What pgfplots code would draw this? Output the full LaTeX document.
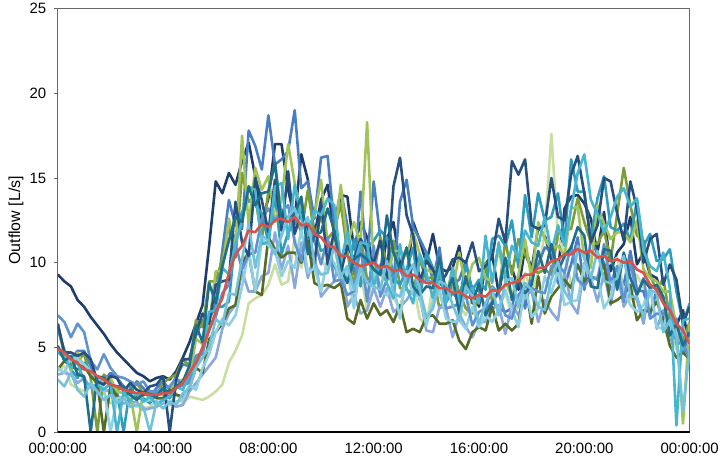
\documentclass[border=0pt]{standalone}
\usepackage{pgfplots}
\pgfplotsset{compat=1.18}
\usepackage{pgfplotstable}
\usepackage{fontspec}
\setmainfont{Liberation Sans}

\definecolor{c1}{HTML}{1F3D6B}
\definecolor{c2}{HTML}{4A7EC4}
\definecolor{c3}{HTML}{2E9CBB}
\definecolor{c4}{HTML}{8ED1E2}
\definecolor{c5}{HTML}{7D9D3A}
\definecolor{c6}{HTML}{A2C35A}
\definecolor{c7}{HTML}{C9DEA2}
\definecolor{c8}{HTML}{556B26}
\definecolor{c9}{HTML}{5E92D0}
\definecolor{c10}{HTML}{1F6E8C}
\definecolor{c11}{HTML}{8AA8DC}
\definecolor{c12}{HTML}{46B6D0}
\definecolor{c13}{HTML}{27507F}
\definecolor{c14}{HTML}{74C2D9}
\definecolor{meanred}{HTML}{D6534B}

% Daily outflow profiles (15-min steps, t in hours), one column per day; m = mean profile
\pgfplotstableread{
t s1 s2 s3 s4 s5 s6 s7 s8 s9 s10 s11 s12 s13 s14 m
0.00 9.3 6.1 4.8 3.8 6.4 4.8 3.6 3.7 6.9 5.1 3.4 4.7 6.4 3.1 4.9
0.25 8.9 4.8 4.9 3.5 4.5 4.9 3.9 4.2 6.5 4.2 3.5 4.4 4.7 2.7 4.7
0.50 8.6 4.3 3.7 4.4 4.0 3.6 2.8 3.9 5.6 4.5 3.4 3.8 4.7 3.5 4.3
0.75 7.8 4.8 3.2 4.3 4.2 4.7 2.6 3.7 6.4 3.4 2.9 4.1 4.5 2.5 4.1
1.00 7.4 4.8 4.1 4.0 4.6 3.8 2.4 3.9 5.9 3.3 3.2 3.0 4.7 2.1 3.7
1.25 6.8 3.9 3.6 3.6 3.2 3.6 2.9 3.3 4.2 0.0 2.6 2.7 4.3 2.9 3.6
1.50 6.3 3.0 3.1 3.2 0.0 2.7 2.4 2.9 3.7 3.3 2.6 2.8 3.0 2.4 3.3
1.75 5.8 3.0 3.3 2.6 3.4 3.1 2.3 0.0 4.6 3.2 2.4 2.5 2.8 1.9 3.1
2.00 5.2 3.5 2.6 0.0 3.0 3.2 1.7 2.7 3.8 2.8 2.5 2.9 3.3 2.2 2.8
2.25 4.7 3.2 2.4 2.0 2.5 2.4 1.8 2.1 3.3 2.7 1.8 0.0 3.2 1.7 2.7
2.50 4.3 2.7 0.0 2.1 2.6 2.3 2.1 2.0 3.2 2.7 1.7 2.4 2.4 2.0 2.5
2.75 3.9 2.3 2.7 2.1 2.4 2.3 1.8 2.5 3.0 2.2 1.7 1.8 2.9 1.5 2.4
3.00 3.5 3.0 2.0 2.3 2.9 0.0 1.5 2.0 2.8 1.9 1.8 2.3 2.5 1.6 2.3
3.25 3.3 2.6 2.0 1.8 2.3 2.4 1.4 2.2 3.0 2.3 1.3 1.8 2.3 1.5 2.3
3.50 3.0 2.1 1.7 1.9 2.4 2.0 1.5 2.3 2.4 2.2 1.4 2.1 2.7 0.0 2.2
3.75 3.2 2.6 2.3 1.8 2.2 2.2 1.8 2.0 2.4 2.1 1.5 1.6 2.8 1.8 2.2
4.00 3.3 3.0 2.5 1.8 2.9 2.2 1.4 2.0 2.6 2.6 1.7 1.9 3.3 1.4 2.3
4.25 3.1 2.5 2.0 1.8 3.2 2.4 1.6 2.5 2.7 2.3 1.7 2.1 0.0 1.8 2.3
4.50 3.6 3.3 2.6 1.8 3.4 3.0 2.3 2.2 3.2 2.7 1.5 2.7 3.1 1.6 2.6
4.75 4.4 4.0 2.8 1.9 4.3 3.1 1.7 2.1 2.7 3.0 1.6 2.5 4.3 2.3 2.9
5.00 5.3 3.9 2.9 2.8 3.9 3.2 2.1 2.6 3.0 3.9 2.4 3.4 4.3 2.6 3.5
5.25 6.4 5.7 4.5 2.5 6.6 5.5 2.0 3.8 4.5 6.3 2.9 3.8 5.9 3.8 4.1
5.50 7.5 6.6 4.6 3.8 6.2 5.2 1.9 3.5 4.7 5.3 3.4 5.0 7.0 4.4 5.0
5.75 11.0 6.7 6.7 4.6 8.9 6.4 2.1 5.5 6.1 8.8 3.9 7.1 6.4 5.0 6.0
6.00 14.8 7.6 7.4 5.9 8.9 9.5 2.4 5.9 6.8 7.6 4.4 7.2 8.7 6.7 7.1
6.25 14.1 10.7 7.4 6.7 10.2 9.5 2.8 6.4 8.2 9.8 6.1 9.7 8.9 6.3 7.9
6.50 15.3 13.7 7.7 6.3 12.2 12.6 4.1 7.3 8.7 11.3 7.0 9.3 9.0 8.2 9.4
6.75 14.6 12.2 11.6 6.9 10.3 10.8 4.8 7.5 11.1 12.7 7.5 11.1 13.6 8.1 10.5
7.00 16.0 12.0 13.0 8.6 15.3 17.5 5.7 10.0 9.6 12.4 9.5 12.5 11.2 10.2 11.0
7.25 17.1 17.8 13.7 10.7 13.6 12.2 7.6 10.6 10.5 14.5 8.3 14.5 10.4 12.3 11.9
7.50 15.1 16.9 13.4 8.3 13.9 15.6 7.9 8.3 10.6 13.4 8.3 14.3 15.0 9.7 11.8
7.75 12.4 15.5 12.9 11.4 11.4 14.3 8.1 8.1 12.6 14.1 9.2 11.1 13.7 11.6 12.3
8.00 13.8 18.7 11.2 11.0 14.2 15.1 8.7 11.5 13.2 14.2 9.4 11.2 11.8 11.3 12.1
8.25 17.0 15.8 14.0 10.7 15.9 12.4 9.9 10.8 12.5 15.9 11.8 14.5 14.9 10.5 12.5
8.50 17.0 16.1 10.5 9.2 12.7 13.8 8.7 10.3 13.0 12.3 9.6 14.7 11.9 11.6 12.6
8.75 14.3 16.6 11.8 10.1 12.7 17.0 8.9 10.6 13.4 12.7 11.0 11.4 15.4 12.7 12.4
9.00 12.6 19.0 12.3 9.7 12.8 14.7 11.5 10.6 11.2 12.9 8.5 14.6 11.7 13.2 12.7
9.25 16.4 14.4 13.8 12.0 11.8 12.7 9.7 10.0 10.1 13.9 11.2 12.6 13.0 12.0 12.2
9.50 14.9 14.8 11.0 9.4 14.3 12.1 11.4 11.3 12.2 10.5 9.1 11.6 12.0 12.7 12.3
9.75 11.6 12.6 11.9 9.7 11.6 12.8 11.7 8.8 11.3 11.6 10.5 13.1 9.9 9.9 11.7
10.00 13.7 16.2 10.7 8.3 12.7 14.9 10.2 8.6 9.9 11.8 8.0 12.8 13.6 9.3 11.5
10.25 14.6 16.3 10.9 10.3 11.4 11.1 9.6 8.7 11.5 13.2 8.5 13.8 9.9 9.4 11.0
10.50 11.6 12.2 9.8 10.0 11.9 11.3 11.3 8.5 8.9 11.9 8.9 13.4 11.9 11.0 10.9
10.75 14.0 14.3 9.0 9.0 13.5 14.6 8.8 8.8 9.0 9.7 10.4 10.0 9.4 9.2 10.4
11.00 13.9 12.2 9.1 9.6 10.6 11.1 7.6 6.7 8.1 8.8 7.4 11.8 11.0 9.8 10.4
11.25 10.8 9.3 11.4 7.3 8.6 12.4 8.0 6.4 8.3 10.2 8.1 9.8 10.2 8.4 10.0
11.50 12.4 14.2 8.6 9.9 11.6 11.1 9.5 7.8 11.0 10.5 7.0 11.2 11.4 9.7 9.8
11.75 11.5 10.0 10.9 7.9 9.0 18.3 7.2 6.7 7.7 10.2 7.2 11.1 10.7 8.8 9.9
12.00 9.9 14.8 11.3 9.4 9.3 9.5 9.8 7.6 11.0 9.6 8.5 8.6 10.0 8.6 10.0
12.25 9.3 11.5 11.9 8.3 11.5 9.3 8.7 6.9 8.0 9.3 7.4 9.9 11.3 8.4 9.7
12.50 11.4 9.9 11.5 8.1 9.8 8.9 8.1 7.2 9.0 12.8 8.5 8.8 9.1 10.1 9.8
12.75 12.4 8.8 9.1 8.7 11.3 10.7 7.9 6.5 9.2 10.6 7.1 7.9 14.5 8.2 9.5
13.00 9.9 13.6 8.7 6.7 8.5 10.7 7.4 7.5 9.6 9.6 7.4 11.1 16.2 8.0 9.6
13.25 8.9 14.9 9.6 9.5 8.4 10.4 8.9 5.9 8.7 10.9 7.8 8.5 12.8 9.3 9.2
13.50 12.4 12.1 10.9 8.1 8.2 11.8 8.8 6.1 9.9 8.6 8.4 7.6 11.6 9.9 9.3
13.75 11.3 11.4 7.8 8.0 10.2 10.5 6.7 5.9 8.7 8.1 8.0 10.5 8.9 8.4 9.0
14.00 10.0 10.6 10.6 6.3 9.0 9.6 6.3 6.8 9.0 8.6 6.0 9.4 10.1 6.8 8.8
14.25 11.7 8.9 9.7 7.7 9.2 9.4 8.7 6.9 8.8 8.5 5.9 7.9 9.6 7.3 8.8
14.50 9.7 10.9 9.2 8.4 7.3 10.0 8.0 6.4 9.6 10.3 7.4 9.7 8.7 8.9 8.5
14.75 9.5 7.8 7.7 6.7 7.9 8.4 7.3 6.4 7.3 8.2 7.3 7.6 9.3 8.7 8.5
15.00 9.7 8.7 8.2 6.5 9.7 8.3 7.5 6.6 7.4 9.1 5.6 9.7 10.2 7.5 8.2
15.25 11.0 9.0 7.8 6.6 8.2 10.6 7.4 5.4 7.6 7.0 7.0 7.5 10.3 6.6 8.3
15.50 8.4 10.1 9.9 6.1 7.3 8.6 6.9 4.9 8.1 9.2 6.2 8.2 10.0 8.6 8.0
15.75 8.6 8.2 8.4 7.4 7.0 9.9 8.0 5.9 6.3 7.6 5.6 8.5 11.2 8.0 7.9
16.00 7.4 8.4 9.0 6.2 8.0 10.3 6.4 6.2 7.1 8.8 6.5 7.6 9.5 6.4 8.1
16.25 9.9 7.2 8.4 6.9 10.0 9.1 6.6 6.0 7.3 6.9 6.5 11.6 9.8 7.6 8.0
16.50 10.5 7.7 11.4 6.5 7.7 8.9 7.3 7.4 8.6 7.6 7.3 8.8 10.3 8.5 8.4
16.75 8.2 7.3 11.6 7.2 8.2 10.8 7.4 6.0 8.2 8.4 7.5 11.2 12.6 6.9 8.3
17.00 10.2 7.1 11.0 8.4 11.3 8.9 8.2 6.4 6.9 10.3 5.8 9.1 11.2 8.9 8.7
17.25 9.7 7.3 12.5 7.2 9.3 8.0 6.9 6.0 6.7 7.8 7.5 11.0 16.0 9.1 8.8
17.50 8.4 9.3 9.7 6.2 11.4 9.3 7.4 6.4 8.1 9.0 6.9 10.3 15.2 7.4 8.9
17.75 10.9 7.3 14.0 8.6 10.5 11.4 9.4 8.8 8.6 8.2 8.1 11.9 16.1 8.8 9.3
18.00 9.6 9.5 11.5 6.8 9.6 9.0 8.3 6.4 8.5 8.7 8.3 11.2 12.2 8.4 9.3
18.25 12.1 9.9 14.1 7.3 9.4 12.4 9.4 9.2 8.3 10.7 6.5 11.0 12.0 7.4 9.7
18.50 11.6 10.9 12.5 9.2 9.6 11.4 11.8 7.0 8.2 9.4 7.8 12.7 12.2 7.2 9.7
18.75 10.2 10.7 12.7 8.2 9.3 10.8 17.6 8.0 9.8 11.1 7.1 10.6 15.0 9.0 10.1
19.00 9.5 8.8 14.1 9.6 11.7 11.0 11.5 8.5 9.9 9.5 6.6 12.2 12.7 10.1 10.2
19.25 13.2 8.6 11.2 7.5 11.9 10.4 10.6 9.0 9.4 10.4 9.5 11.0 12.5 8.3 10.5
19.50 13.9 9.9 16.1 7.7 12.0 13.2 8.7 8.5 11.0 10.9 7.6 13.2 15.2 7.7 10.5
19.75 14.0 11.5 14.2 7.8 13.8 13.3 9.1 9.9 9.0 12.1 7.0 15.3 16.3 11.0 10.8
20.00 13.5 8.4 14.2 9.9 12.4 10.2 9.1 8.9 8.6 11.6 10.0 16.4 14.1 10.3 10.6
20.25 12.6 11.4 11.4 8.9 11.2 9.7 10.4 9.2 9.2 8.6 9.1 13.7 11.2 9.1 10.7
20.50 10.6 10.5 13.8 9.2 11.1 13.4 10.6 9.0 9.0 8.5 7.7 12.9 12.2 10.7 10.3
20.75 13.0 10.0 15.1 7.3 11.9 12.3 9.8 9.9 11.1 10.8 9.4 11.8 15.0 8.9 10.4
21.00 9.5 8.4 12.1 8.0 10.1 11.4 10.0 7.6 8.8 10.7 7.5 12.7 14.8 8.8 10.1
21.25 10.6 9.0 11.9 9.8 12.9 11.8 10.3 7.8 9.8 8.4 9.5 13.9 12.9 9.1 10.2
21.50 11.1 8.7 12.3 8.4 15.6 11.8 8.5 8.1 7.7 10.6 7.4 14.4 11.3 10.4 10.0
21.75 12.7 10.7 11.3 7.5 13.4 11.2 7.8 8.7 10.0 9.1 8.2 13.3 14.8 8.0 10.1
22.00 9.9 8.4 13.7 7.1 11.6 12.5 9.3 6.6 8.1 8.1 7.8 13.8 13.2 8.0 9.6
22.25 10.6 8.3 11.0 7.5 11.3 9.6 8.5 7.2 9.1 9.0 6.4 10.7 10.0 6.8 9.4
22.50 9.3 6.9 11.7 8.6 9.3 9.1 7.2 7.1 6.7 8.5 8.7 9.8 11.4 8.4 8.7
22.75 9.1 8.4 10.1 6.2 8.3 8.9 8.1 7.7 7.0 8.7 6.1 9.5 11.7 8.2 8.4
23.00 7.8 7.8 10.2 6.1 9.1 8.3 6.0 6.7 6.9 8.0 7.2 10.6 8.7 5.9 7.6
23.25 6.9 6.6 10.8 7.7 6.7 8.3 5.8 5.1 7.6 5.7 5.4 8.5 9.9 6.6 7.2
23.50 6.3 6.7 8.3 5.7 5.4 6.2 4.9 4.4 5.2 6.4 5.8 0.4 9.0 5.6 6.4
23.75 7.2 4.7 6.4 6.2 5.4 0.5 4.6 4.7 5.3 5.1 4.9 6.6 6.4 1.2 6.0
24.00 4.8 5.8 7.6 5.1 6.5 6.5 5.5 4.3 4.2 5.9 5.0 6.7 7.4 4.9 5.2
}\flowdata

\begin{document}
\begin{tikzpicture}
\begin{axis}[
  name=ax,
  scale only axis,
  width=634pt, height=425pt,
  xmin=0, xmax=24, ymin=0, ymax=25,
  xtick={0,4,8,12,16,20,24},
  xticklabels={00:00:00,04:00:00,08:00:00,12:00:00,16:00:00,20:00:00,00:00:00},
  ytick={0,5,10,15,20,25},
  ylabel={Outflow [L/s]},
  ylabel style={at={([xshift=-31pt]axis description cs:0,0.5)}, anchor=south},
  tick label style={font=\fontsize{15}{17}\selectfont},
  label style={font=\fontsize{16}{18}\selectfont},
  /pgf/number format/assume math mode=true,
  axis line style={draw=black!60, line width=1.1pt},
  ytick pos=left, xtick pos=bottom,
  tick align=outside,
  major tick length=4pt,
  y tick style={draw=black!60, line width=1pt},
  x tick style={draw=none},
  xticklabel style={yshift=-3pt},
  yticklabel style={xshift=-4pt},
  every axis plot/.append style={line width=2.6pt, line join=round},
  clip=true,
]
\addplot[c1]  table[x=t, y=s1]  {\flowdata};
\addplot[c7]  table[x=t, y=s7]  {\flowdata};
\addplot[c2]  table[x=t, y=s2]  {\flowdata};
\addplot[c5]  table[x=t, y=s5]  {\flowdata};
\addplot[c3]  table[x=t, y=s3]  {\flowdata};
\addplot[c11] table[x=t, y=s11] {\flowdata};
\addplot[c6]  table[x=t, y=s6]  {\flowdata};
\addplot[c8]  table[x=t, y=s8]  {\flowdata};
\addplot[c4]  table[x=t, y=s4]  {\flowdata};
\addplot[c9]  table[x=t, y=s9]  {\flowdata};
\addplot[c13] table[x=t, y=s13] {\flowdata};
\addplot[c12] table[x=t, y=s12] {\flowdata};
\addplot[c10] table[x=t, y=s10] {\flowdata};
\addplot[c14] table[x=t, y=s14] {\flowdata};
\addplot[meanred, line width=2.6pt] table[x=t, y=m] {\flowdata};
% dark baseline along the time axis
\draw[black, line width=1.3pt] ([xshift=-6pt]rel axis cs:0,0) -- (rel axis cs:1,0);
\end{axis}
% fixed margins around the plot area
\path ([xshift=-58pt,yshift=-27pt]ax.south west) rectangle ([xshift=30pt,yshift=8pt]ax.north east);
\end{tikzpicture}
\end{document}
